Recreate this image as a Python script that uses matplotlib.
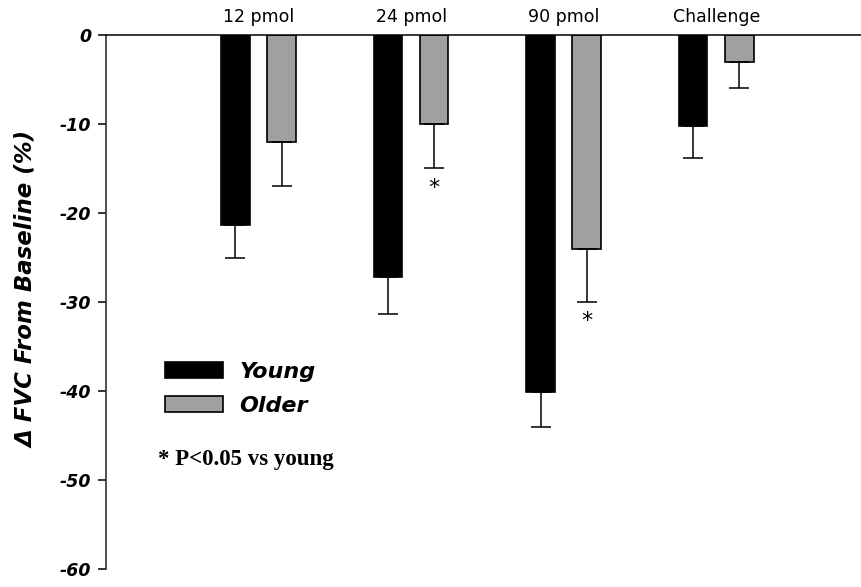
import numpy as np
import matplotlib.pyplot as plt

# FVC change per dose, young vs older subjects
groups = ["12 pmol", "24 pmol", "90 pmol", "Challenge"]
young = [-21.4, -27.2, -40.1, -10.2]
young_err = [3.7, 4.1, 3.9, 3.6]
older = [-12.0, -10.0, -24.0, -3.0]
older_err = [5.0, 5.0, 6.0, 3.0]
older_sig = [False, True, True, False]
yticks = [0, -10, -20, -30, -40, -50, -60]

x = np.arange(len(groups))
width = 0.187
offset = 0.151

fig = plt.figure(figsize=(8.62, 5.87), dpi=100)
ax = fig.add_axes([0.123, 0.0307, 0.877, 0.9097])

err_kw = dict(elinewidth=1.1, capthick=1.1, ecolor="black")
zeros = np.zeros(len(groups))
b1 = ax.bar(x - offset, young, width, color="black", edgecolor="black", linewidth=1.2,
            yerr=[young_err, zeros], capsize=7, error_kw=err_kw, label="Young")
b2 = ax.bar(x + offset, older, width, color="#a0a0a0", edgecolor="black", linewidth=1.2,
            yerr=[older_err, zeros], capsize=7, error_kw=err_kw, label="Older")

# significance stars under the older bars
for xi, v, e, s in zip(x, older, older_err, older_sig):
    if s:
        ax.annotate("*", xy=(xi + offset, v - e), xytext=(0, -14), textcoords="offset points",
                    ha="center", va="center", fontsize=16)

# dose labels above the top axis line
for xi, g in zip(x, groups):
    ax.annotate(g, xy=(xi, 0), xytext=(0, 9.5), textcoords="offset points",
                ha="center", va="baseline", fontsize=12.5, annotation_clip=False)

ax.set_xlim(-0.999, 3.955)
ax.set_ylim(-60, 0)
ax.set_xticks([])
ax.set_yticks(yticks)
ax.set_yticklabels([str(t) for t in yticks], fontsize=12.5, fontweight="bold", fontstyle="italic")
ax.tick_params(axis="y", direction="out", length=5.8, width=1.1, pad=5)

for side in ["right", "bottom"]:
    ax.spines[side].set_visible(False)
for side in ["left", "top"]:
    ax.spines[side].set_linewidth(1.1)
ax.spines["left"].set_color("#222222")

fig.text(27 / 862, 1 - 289 / 587, "Δ FVC From Baseline (%)", rotation=90,
         ha="center", va="center", fontsize=16.5, fontweight="bold", fontstyle="italic")

ax.legend(handles=[b1, b2], loc="upper left", bbox_to_anchor=(165 / 862, 1 - 362 / 587),
          bbox_transform=fig.transFigure, frameon=False, borderpad=0, borderaxespad=0,
          handlelength=2.6, handleheight=0.72, handletextpad=0.75, labelspacing=0.62,
          prop=dict(size=16, weight="bold", style="italic"))

fig.text(158 / 862, 1 - 460 / 587, "* P<0.05 vs young", ha="left", va="center",
         fontsize=16.5, fontweight="bold", family="Liberation Serif")

fig.savefig("out.png", dpi=100)
